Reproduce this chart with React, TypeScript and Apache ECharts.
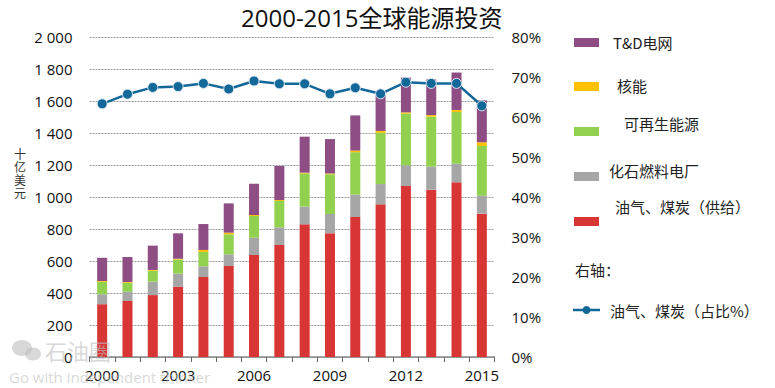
import React, { useEffect, useRef } from "react";
import * as echarts from "echarts";

const years = ["2000","2001","2002","2003","2004","2005","2006","2007","2008","2009","2010","2011","2012","2013","2014","2015"];
const oilCoalSupply = [330, 350, 387, 440, 500, 569, 638, 700, 829, 773, 875, 954, 1069, 1046, 1092, 896];
const fossilPower = [62, 58, 84, 81, 67, 73, 108, 110, 111, 121, 140, 127, 129, 144, 116, 112];
const renewables = [78, 56, 68, 88, 90, 125, 135, 165, 207, 248, 265, 320, 323, 312, 323, 311];
const nuclear = [5, 5, 5, 5, 12, 10, 6, 6, 5, 5, 10, 12, 8, 10, 13, 23];
const tdGrid = [145, 156, 152, 159, 162, 183, 196, 213, 225, 215, 220, 229, 217, 223, 234, 262];
const fossilShare = [63.3, 65.7, 67.4, 67.6, 68.4, 67.0, 69.0, 68.3, 68.3, 65.8, 67.3, 65.8, 68.7, 68.4, 68.4, 62.8];

const leftTicks = { min: 0, max: 2000, interval: 200 };
const rightTicks = { min: 0, max: 80, interval: 10 };

const C_RED = "#D83535";
const C_GRAY = "#A6A6A6";
const C_GREEN = "#92D050";
const C_ORANGE = "#FFC000";
const C_PURPLE = "#8E4E84";
const C_LINE = "#13689A";

const FONT = "'Open Sans', 'Noto Sans CJK SC', sans-serif";
const CJK = "'Noto Sans CJK SC', sans-serif";

export default function App() {
  const ref = useRef<HTMLDivElement>(null);
  useEffect(() => {
    if (!ref.current) return;
    const chart = echarts.init(ref.current, null, { renderer: "svg" });
    const barSeries = (name: string, data: number[], color: string) => ({
      name,
      type: "bar",
      stack: "total",
      data,
      barWidth: 10,
      itemStyle: { color },
    });
    const legendItems = [
      { color: C_PURPLE, rectY: 38, text: "T&D电网", tx: 613, ty: 42 },
      { color: C_ORANGE, rectY: 82, text: "核能", tx: 617, ty: 85 },
      { color: C_GREEN, rectY: 127, text: "可再生能源", tx: 624, ty: 123 },
      { color: C_GRAY, rectY: 172, text: "化石燃料电厂", tx: 609, ty: 170 },
      { color: C_RED, rectY: 217, text: "油气、煤炭（供给）", tx: 615, ty: 206 },
    ];
    const graphics: any[] = [];
    legendItems.forEach((it) => {
      graphics.push({ type: "rect", left: 574, top: it.rectY, shape: { width: 25, height: 9 }, style: { fill: it.color } });
      graphics.push({ type: "text", x: it.tx, y: it.ty, style: { text: it.text, fill: "#222", font: `15px ${CJK}`, textVerticalAlign: "middle" } });
    });
    graphics.push({ type: "text", x: 575, y: 269, style: { text: "右轴：", fill: "#222", font: `15px ${CJK}`, textVerticalAlign: "middle" } });
    graphics.push({ type: "line", shape: { x1: 573, y1: 310, x2: 600, y2: 310 }, style: { stroke: C_LINE, lineWidth: 2.5 } });
    graphics.push({ type: "circle", shape: { cx: 586.5, cy: 310, r: 4 }, style: { fill: C_LINE } });
    graphics.push({ type: "text", x: 610, y: 310, style: { text: "油气、煤炭（占比%）", fill: "#222", font: `15px ${CJK}`, textVerticalAlign: "middle" } });
    graphics.push({ type: "text", x: 20, y: 173, style: { text: "十\n亿\n美\n元", fill: "#333", font: `12px ${CJK}`, lineHeight: 13, textAlign: "center", textVerticalAlign: "middle" } });
    // watermark
    graphics.push({ type: "ellipse", shape: { cx: 22, cy: 348, rx: 10, ry: 8 }, style: { fill: "rgba(190,190,190,0.6)" }, z: 100 });
    graphics.push({ type: "ellipse", shape: { cx: 33, cy: 354, rx: 8, ry: 6.5 }, style: { fill: "rgba(190,190,190,0.6)" }, z: 100 });
    graphics.push({ type: "text", x: 45, y: 350, style: { text: "石油圈", fill: "rgba(190,190,190,0.6)", font: `22px ${CJK}`, textVerticalAlign: "middle" }, z: 100 });
    graphics.push({ type: "text", x: 9, y: 377, style: { text: "Go with independent thinker", fill: "rgba(190,190,190,0.6)", font: `15px ${FONT}`, textVerticalAlign: "middle" }, z: 100 });

    chart.setOption({
      animation: false,
      backgroundColor: "#fff",
      title: {
        text: "2000-2015全球能源投资",
        left: 236,
        top: 0,
        textStyle: { fontFamily: FONT, fontSize: 24, fontWeight: "normal", color: "#111" },
      },
      grid: { left: 89.5, right: 280.5, top: 37, bottom: 31, containLabel: false },
      xAxis: {
        type: "category",
        data: years,
        boundaryGap: true,
        axisLine: { lineStyle: { color: "#888", width: 1.5 } },
        axisTick: { show: true, interval: 0, length: 5, lineStyle: { color: "#666" } },
        axisLabel: { interval: 2, color: "#111", fontFamily: FONT, fontSize: 15, margin: 10 },
        splitLine: { show: false },
      },
      yAxis: [
        {
          type: "value",
          ...leftTicks,
          axisLine: { show: false },
          axisTick: { show: false },
          axisLabel: {
            color: "#111",
            fontFamily: FONT,
            fontSize: 15,
            margin: 17,
            formatter: (v: number) => (v >= 1000 ? `${Math.floor(v / 1000)} ${String(v % 1000).padStart(3, "0")}` : `${v}`),
          },
          splitLine: { show: true, lineStyle: { color: "#999", type: [2, 1], width: 1 } },
        },
        {
          type: "value",
          ...rightTicks,
          axisLine: { show: false },
          axisTick: { show: false },
          axisLabel: { color: "#111", fontFamily: FONT, fontSize: 15, margin: 17, formatter: (v: number) => `${v}%` },
          splitLine: { show: false },
        },
      ],
      series: [
        barSeries("油气、煤炭（供给）", oilCoalSupply, C_RED),
        barSeries("化石燃料电厂", fossilPower, C_GRAY),
        barSeries("可再生能源", renewables, C_GREEN),
        barSeries("核能", nuclear, C_ORANGE),
        barSeries("T&D电网", tdGrid, C_PURPLE),
        {
          name: "油气、煤炭（占比%）",
          type: "line",
          yAxisIndex: 1,
          data: fossilShare,
          symbol: "circle",
          symbolSize: 10,
          lineStyle: { color: C_LINE, width: 2.5 },
          itemStyle: { color: C_LINE, borderColor: "#dfe9f0", borderWidth: 1 },
          z: 5,
        },
      ],
      graphic: graphics,
    });
    return () => chart.dispose();
  }, []);
  return <div ref={ref} style={{ position: "fixed", left: 0, top: 0, width: 775, height: 388 }} />;
}
